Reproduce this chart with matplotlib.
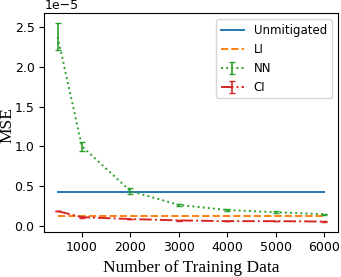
import numpy as np
import matplotlib
matplotlib.use('Agg')
import matplotlib.pyplot as plt

n_train = [500, 1000, 2000, 3000, 4000, 5000, 6000]
unmitigated = [4.2e-6] * 7
li = [1.18e-6] * 7
nn = [23.8e-6, 10.0e-6, 4.35e-6, 2.6e-6, 1.95e-6, 1.68e-6, 1.42e-6]
nn_err = [1.7e-6, 0.55e-6, 0.4e-6, 0.15e-6, 0.12e-6, 0.1e-6, 0.08e-6]
ci = [1.82e-6, 1.05e-6, 0.82e-6, 0.64e-6, 0.55e-6, 0.55e-6, 0.5e-6]
ci_err = [0.05e-6, 0.04e-6, 0.03e-6, 0.03e-6, 0.03e-6, 0.03e-6, 0.03e-6]

fig = plt.figure(figsize=(3.41, 2.77), dpi=100)
ax = fig.add_axes([0.130, 0.1635, 0.860, 0.788])

ax.plot(n_train, unmitigated, color='tab:blue', lw=1.4, label='Unmitigated')
ax.plot(n_train, li, color='tab:orange', ls='--', lw=1.4, label='LI')
ax.errorbar(n_train, nn, yerr=nn_err, color='tab:green', ls=':', lw=1.4,
            capsize=2, elinewidth=1.2, label='NN')
ax.errorbar(n_train, ci, yerr=ci_err, color='tab:red', ls='-.', lw=1.4,
            capsize=2, elinewidth=1.2, label='CI')

ax.set_xticks([1000, 2000, 3000, 4000, 5000, 6000])
ax.set_yticks(np.arange(0, 2.6e-5, 0.5e-5))
ax.tick_params(labelsize=9)
ax.yaxis.get_offset_text().set_fontsize(9)

ax.set_xlabel('Number of Training Data', family='Liberation Serif', fontsize=12.5)
ax.set_ylabel('MSE', family='Liberation Serif', fontsize=12.5)
ax.yaxis.set_label_coords(-0.098, 0.49)
ax.legend(loc='upper right', fontsize=8.5)

fig.savefig('out.png', dpi=100)
